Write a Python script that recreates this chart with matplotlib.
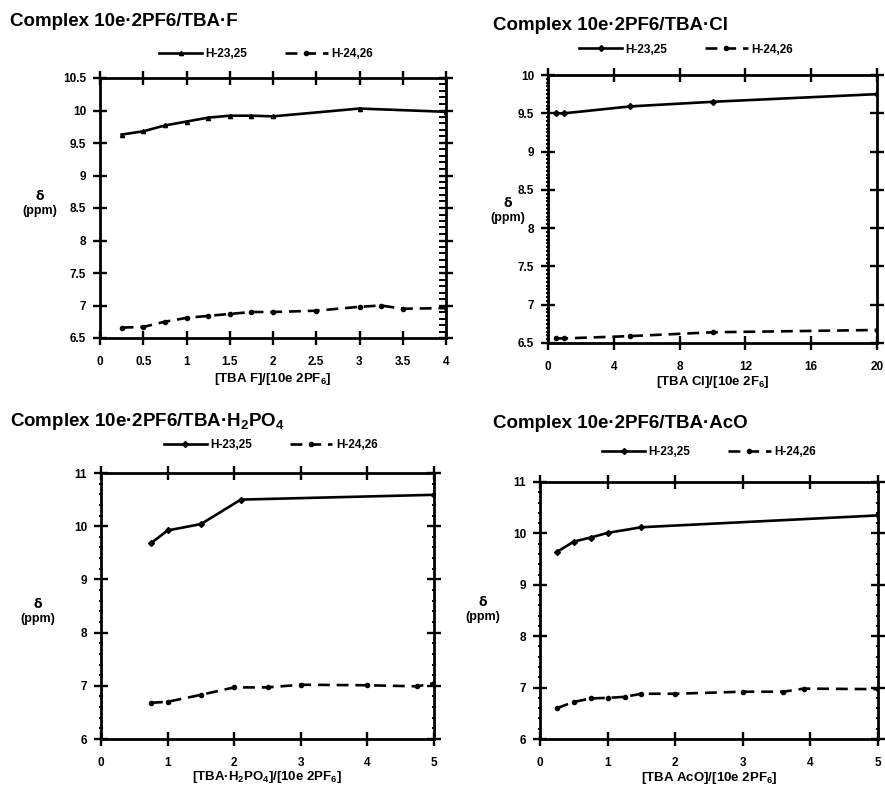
import matplotlib
matplotlib.use('Agg')
import matplotlib.pyplot as plt
from matplotlib.ticker import MultipleLocator, FixedLocator, FixedFormatter

plt.rcParams['font.family'] = ['Liberation Sans', 'DejaVu Sans']
plt.rcParams['font.weight'] = 'bold'
plt.rcParams['mathtext.fontset'] = 'custom'
plt.rcParams['mathtext.rm'] = 'Liberation Sans:bold'
plt.rcParams['mathtext.it'] = 'Liberation Sans:bold'
plt.rcParams['mathtext.bf'] = 'Liberation Sans:bold'

# ---------------- data ----------------
titles = ["Complex 10e\u00b72PF6/TBA\u00b7F", "Complex 10e\u00b72PF6/TBA\u00b7Cl",
          "Complex 10e\u00b72PF6/TBA\u00b7H$_2$PO$_4$", "Complex 10e\u00b72PF6/TBA\u00b7AcO"]
xlabels = ["[TBA F]/[10e 2PF$_6$]", "[TBA Cl]/[10e 2F$_6$]",
           "[TBA\u00b7H$_2$PO$_4$]/[10e 2PF$_6$]", "[TBA AcO]/[10e 2PF$_6$]"]
series_names = ["H-23,25", "H-24,26"]

f_x_h2325 = [0.25, 0.5, 0.75, 1.0, 1.25, 1.5, 1.75, 2.0, 3.0, 4.0]
f_y_h2325 = [9.63, 9.68, 9.77, 9.83, 9.89, 9.92, 9.92, 9.91, 10.03, 9.98]
f_x_h2426 = [0.25, 0.5, 0.75, 1.0, 1.25, 1.5, 1.75, 2.0, 2.5, 3.0, 3.25, 3.5, 4.0]
f_y_h2426 = [6.66, 6.67, 6.75, 6.81, 6.84, 6.87, 6.90, 6.90, 6.92, 6.98, 7.00, 6.95, 6.96]

cl_x_h2325 = [0.5, 1.0, 5.0, 10.0, 20.0]
cl_y_h2325 = [9.50, 9.50, 9.59, 9.65, 9.75]
cl_x_h2426 = [0.5, 1.0, 5.0, 10.0, 20.0]
cl_y_h2426 = [6.56, 6.56, 6.59, 6.64, 6.67]

p_x_h2325 = [0.75, 1.0, 1.5, 2.1, 5.0]
p_y_h2325 = [9.68, 9.92, 10.04, 10.50, 10.59]
p_x_h2426 = [0.75, 1.0, 1.5, 2.0, 2.5, 3.0, 4.0, 4.75, 5.0]
p_y_h2426 = [6.68, 6.70, 6.83, 6.97, 6.97, 7.02, 7.01, 6.99, 7.05]

a_x_h2325 = [0.25, 0.5, 0.75, 1.0, 1.5, 5.0]
a_y_h2325 = [9.64, 9.84, 9.92, 10.01, 10.12, 10.35]
a_x_h2426 = [0.25, 0.5, 0.75, 1.0, 1.25, 1.5, 2.0, 3.0, 3.6, 3.9, 5.0]
a_y_h2426 = [6.60, 6.72, 6.79, 6.80, 6.82, 6.88, 6.88, 6.92, 6.92, 6.98, 6.97]

f_xticks = [0, 0.5, 1, 1.5, 2, 2.5, 3, 3.5, 4]
f_xticklabels = ["0", "0.5", "1", "1.5", "2", "2.5", "3", "3.5", "4"]
f_yticks = [6.5, 7, 7.5, 8, 8.5, 9, 9.5, 10, 10.5]
f_yticklabels = ["6.5", "7", "7.5", "8", "8.5", "9", "9.5", "10", "10.5"]
cl_xticks = [0, 4, 8, 12, 16, 20]
cl_xticklabels = ["0", "4", "8", "12", "16", "20"]
cl_yticks = [6.5, 7, 7.5, 8, 8.5, 9, 9.5, 10]
cl_yticklabels = ["6.5", "7", "7.5", "8", "8.5", "9", "9.5", "10"]
big_xticks = [0, 1, 2, 3, 4, 5]
big_xticklabels = ["0", "1", "2", "3", "4", "5"]
big_yticks = [6, 7, 8, 9, 10, 11]
big_yticklabels = ["6", "7", "8", "9", "10", "11"]

# ---------------- figure ----------------
W, H = 885, 787
fig = plt.figure(figsize=(W / 100, H / 100), dpi=100)


def px(x, y):
    return x / W, 1 - y / H


def make_ax(l, t, r, b):
    return fig.add_axes([l / W, 1 - b / H, (r - l) / W, (b - t) / H])


panels = [
    dict(box=(100, 78, 446, 338), xs=(f_x_h2325, f_x_h2426), ys=(f_y_h2325, f_y_h2426),
         xlim=(0, 4), ylim=(6.5, 10.5), xt=f_xticks, xtl=f_xticklabels, yt=f_yticks, ytl=f_yticklabels,
         minor=('right', 0.1), m1='^', title_pos=(10, 22), leg=(0.48, 1.092),
         ylab=(40, 196), xlab_y=379),
    dict(box=(548, 75, 877, 343), xs=(cl_x_h2325, cl_x_h2426), ys=(cl_y_h2325, cl_y_h2426),
         xlim=(0, 20), ylim=(6.5, 10), xt=cl_xticks, xtl=cl_xticklabels, yt=cl_yticks, ytl=cl_yticklabels,
         minor=('left', 0.05), m1='D', title_pos=(493, 25), leg=(0.42, 1.095),
         ylab=(508, 203), xlab_y=382),
    dict(box=(101, 473, 434, 739), xs=(p_x_h2325, p_x_h2426), ys=(p_y_h2325, p_y_h2426),
         xlim=(0, 5), ylim=(6, 11), xt=big_xticks, xtl=big_xticklabels, yt=big_yticks, ytl=big_yticklabels,
         minor=('both', 0.2), m1='D', title_pos=(10, 422), leg=(0.51, 1.105),
         ylab=(38, 604), xlab_y=777),
    dict(box=(540, 482, 878, 739), xs=(a_x_h2325, a_x_h2426), ys=(a_y_h2325, a_y_h2426),
         xlim=(0, 5), ylim=(6, 11), xt=big_xticks, xtl=big_xticklabels, yt=big_yticks, ytl=big_yticklabels,
         minor=('both', 0.2), m1='D', title_pos=(493, 423), leg=(0.50, 1.117),
         ylab=(483, 602), xlab_y=778),
]

for i, p in enumerate(panels):
    ax = make_ax(*p['box'])
    l1, = ax.plot(p['xs'][0], p['ys'][0], color='black', lw=1.9, marker=p['m1'],
                  markersize=3.0, label=series_names[0])
    l2, = ax.plot(p['xs'][1], p['ys'][1], color='black', lw=1.9, marker='o',
                  markersize=3.0, dashes=[4.5, 2.6], label=series_names[1])
    ax.set_xlim(*p['xlim'])
    ax.set_ylim(*p['ylim'])
    ax.xaxis.set_major_locator(FixedLocator(p['xt']))
    ax.xaxis.set_major_formatter(FixedFormatter(p['xtl']))
    ax.yaxis.set_major_locator(FixedLocator(p['yt']))
    ax.yaxis.set_major_formatter(FixedFormatter(p['ytl']))
    for s in ax.spines.values():
        s.set_linewidth(2.0)
    ax.tick_params(which='major', direction='inout', length=10, width=1.7,
                   top=True, right=True, bottom=True, left=True, labelsize=8.5)
    ax.tick_params(axis='x', which='major', pad=8)
    ax.tick_params(axis='y', which='major', pad=5)
    side, step = p['minor']
    ax.yaxis.set_minor_locator(MultipleLocator(step))
    ax.tick_params(axis='x', which='minor', bottom=False, top=False)
    if side == 'right':
        ax.tick_params(axis='y', which='minor', left=False, right=True,
                       direction='in', length=5, width=1.4)
    elif side == 'left':
        ax.tick_params(axis='y', which='minor', left=True, right=False,
                       direction='inout', length=3, width=1.4)
    else:
        ax.tick_params(axis='y', which='minor', left=True, right=True,
                       direction='inout', length=3.5, width=1.4)
    for lab in ax.get_xticklabels() + ax.get_yticklabels():
        lab.set_fontweight('bold')

    ax.legend(handles=[l1, l2], loc='center', bbox_to_anchor=p['leg'], ncol=2,
              frameon=False, fontsize=8.5, handlelength=3.6, columnspacing=3.2,
              handletextpad=0.3, borderaxespad=0, borderpad=0)

    tx, ty = px(*p['title_pos'])
    fig.text(tx, ty, titles[i], fontsize=13.5, fontweight='bold', ha='left', va='center')

    cx = (p['box'][0] + p['box'][2]) / 2
    xx, xy = px(cx, p['xlab_y'])
    fig.text(xx, xy, xlabels[i], fontsize=9.5, fontweight='bold', ha='center', va='center')

    yx, yy = px(*p['ylab'])
    fig.text(yx, yy, "\u03b4", fontsize=9, fontweight='bold', ha='center', va='center',
             family=['DejaVu Sans'])
    yx2, yy2 = px(p['ylab'][0], p['ylab'][1] + 15)
    fig.text(yx2, yy2, "(ppm)", fontsize=9, fontweight='bold', ha='center', va='center')

fig.savefig('out.png', dpi=100)
